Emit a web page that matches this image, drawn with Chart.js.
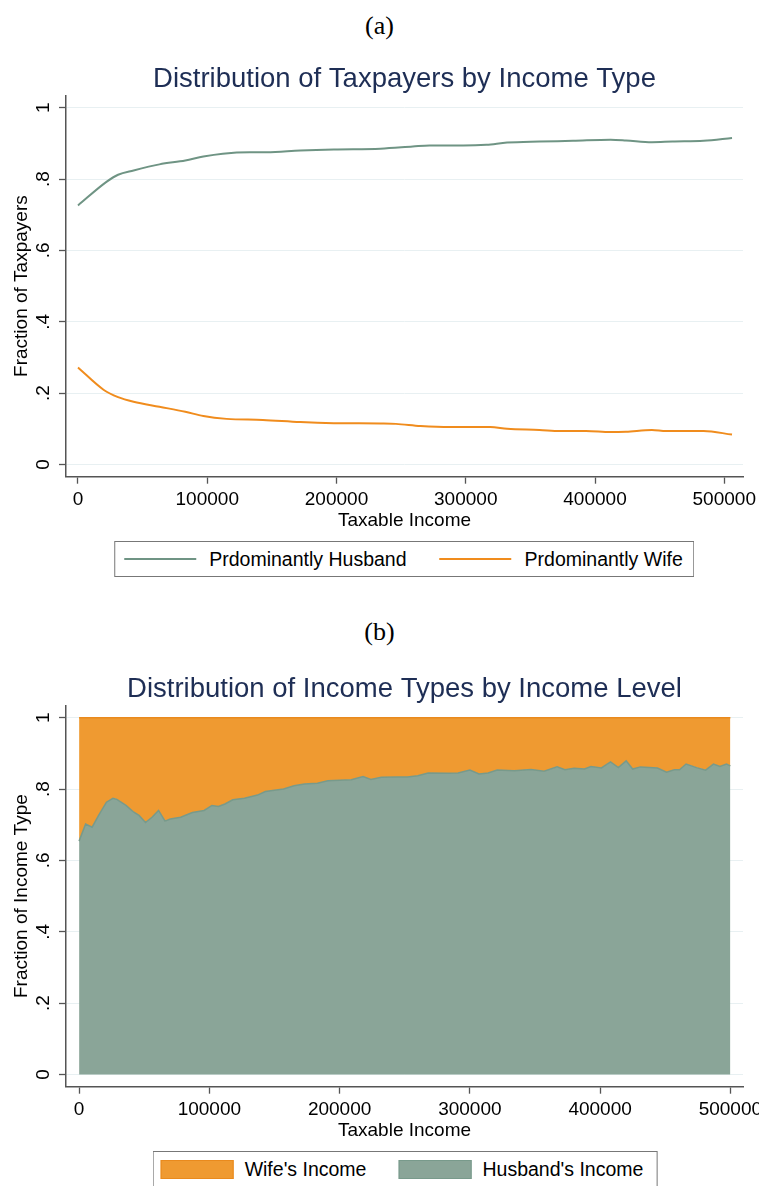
<!DOCTYPE html>
<html>
<head>
<meta charset="utf-8">
<script src="https://cdn.jsdelivr.net/npm/chart.js@4.4.1/dist/chart.umd.min.js"></script>
<style>
  html, body { margin: 0; padding: 0; background: #fff; overflow: hidden; }
  body { width: 759px; height: 1186px; position: relative; font-family: "Liberation Sans", Arial, sans-serif; }
  .panel { position: absolute; left: 0; width: 759px; text-align: center; font-family: "Liberation Serif", "DejaVu Serif", serif; font-size: 26px; line-height: 30px; color: #000; }
  .wrap { position: absolute; left: 0; width: 759px; height: 500px; }
  .legend { position: absolute; transform: translateX(-50%); display: flex; align-items: center; height: 36px; box-sizing: border-box;
            border: 1px solid #777; background: #fff; font-size: 19.5px; color: #000; white-space: nowrap; }
  .legend .item { display: flex; align-items: center; }
  .legend .key.line { width: 72px; height: 0; border-top: 2px solid; margin-right: 13px; }
  .legend .key.box { width: 71px; height: 17px; border: 1px solid; margin-right: 11px; }
</style>
</head>
<body>
<div class="panel" style="top:11px">(a)</div>
<div class="wrap" style="top:45px"><canvas id="taxpayers"></canvas></div>
<div class="legend" id="legendA" style="top:541px; left:404px; padding:0 10px 0 9px"></div>

<div class="panel" style="top:617px">(b)</div>
<div class="wrap" style="top:655px"><canvas id="incomeShare"></canvas></div>
<div class="legend" id="legendB" style="top:1151px; left:405px; padding:0 13px 0 7px"></div>

<script>
// axis ticks
const xTicks = [0, 100000, 200000, 300000, 400000, 500000]
const xTickLabels = ['0', '100000', '200000', '300000', '400000', '500000']
const yTicks = [0, 0.2, 0.4, 0.6, 0.8, 1]
const yTickLabels = ['0', '.2', '.4', '.6', '.8', '1']

// (a) fraction of taxpayers
const husbandIncome = [0, 22000, 31000, 43000, 63000, 83000, 97000, 112000, 133000, 146000, 172000, 198000, 234000,
  259000, 272000, 298000, 316000, 332000, 357000, 383000, 412000, 424000, 444000, 460000, 484000, 506000]
const husbandShare = [0.726, 0.792, 0.812, 0.824, 0.841, 0.852, 0.863, 0.871, 0.875, 0.875, 0.880, 0.883, 0.885,
  0.891, 0.894, 0.894, 0.896, 0.902, 0.905, 0.907, 0.910, 0.908, 0.903, 0.905, 0.907, 0.915]
const wifeIncome = [0, 20000, 31000, 43000, 63000, 83000, 97000, 115000, 143000, 172000, 198000, 234000, 246000,
  265000, 288000, 319000, 332000, 357000, 373000, 393000, 412000, 424000, 444000, 455000, 484000, 506000]
const wifeShare = [0.272, 0.209, 0.189, 0.176, 0.162, 0.148, 0.136, 0.128, 0.125, 0.119, 0.116, 0.115, 0.114,
  0.108, 0.105, 0.105, 0.100, 0.097, 0.094, 0.094, 0.091, 0.092, 0.097, 0.094, 0.094, 0.084]

// (b) fraction of income by type
const levelIncome = [0, 5000, 10000, 15000, 21000, 26000, 29000, 36000, 42000, 46000,
  51000, 56000, 61000, 66000, 70000, 78000, 87000, 96000, 102000, 107000,
  112000, 118000, 127000, 137000, 143000, 157000, 165000, 173000, 183000, 191000,
  209000, 218000, 224000, 232000, 244000, 252000, 260000, 268000, 283000, 291000,
  300000, 307000, 314000, 321000, 334000, 347000, 357000, 367000, 373000, 380000,
  388000, 393000, 401000, 408000, 414000, 420000, 425000, 431000, 444000, 451000,
  457000, 461000, 466000, 474000, 481000, 487000, 492000, 497000, 500000]
const husbandIncomeShare = [0.654, 0.702, 0.693, 0.726, 0.763, 0.774, 0.771, 0.754, 0.735, 0.726,
  0.706, 0.721, 0.740, 0.710, 0.716, 0.721, 0.734, 0.740, 0.754, 0.751,
  0.758, 0.770, 0.774, 0.783, 0.793, 0.800, 0.809, 0.814, 0.816, 0.823,
  0.826, 0.835, 0.827, 0.833, 0.834, 0.834, 0.837, 0.845, 0.844, 0.845,
  0.853, 0.842, 0.845, 0.853, 0.851, 0.855, 0.850, 0.862, 0.854, 0.858,
  0.856, 0.863, 0.859, 0.876, 0.860, 0.879, 0.856, 0.862, 0.859, 0.847,
  0.854, 0.854, 0.870, 0.860, 0.853, 0.870, 0.863, 0.870, 0.865]
const wifeIncomeShare = [0.346, 0.298, 0.307, 0.274, 0.237, 0.226, 0.229, 0.246, 0.265, 0.274,
  0.294, 0.279, 0.260, 0.290, 0.284, 0.279, 0.266, 0.260, 0.246, 0.249,
  0.242, 0.230, 0.226, 0.217, 0.207, 0.200, 0.191, 0.186, 0.184, 0.177,
  0.174, 0.165, 0.173, 0.167, 0.166, 0.166, 0.163, 0.155, 0.156, 0.155,
  0.147, 0.158, 0.155, 0.147, 0.149, 0.145, 0.150, 0.138, 0.146, 0.142,
  0.144, 0.137, 0.141, 0.124, 0.140, 0.121, 0.144, 0.138, 0.141, 0.153,
  0.146, 0.146, 0.130, 0.140, 0.147, 0.130, 0.137, 0.130, 0.135]

const GREEN_LINE = '#6f9484'
const ORANGE_LINE = '#f08c1d'
const GREEN_FILL = '#8aa598'
const ORANGE_FILL = '#ef9a31'

Chart.defaults.font.family = "'Liberation Sans', Arial, sans-serif"
Chart.defaults.color = '#000'

const pts = (xs, ys) => xs.map((x, i) => ({ x, y: ys[i] }))

// legend as html, stata style box
const htmlLegend = {
  id: 'htmlLegend',
  afterUpdate(chart, args, opts) {
    const box = document.getElementById(opts.containerID)
    box.innerHTML = ''
    let items = Chart.defaults.plugins.legend.labels.generateLabels(chart)
    if (opts.reverse) items = items.reverse()
    items.forEach((item, i) => {
      const el = document.createElement('span')
      el.className = 'item'
      if (i > 0) el.style.marginLeft = opts.gap + 'px'
      const key = document.createElement('span')
      key.className = 'key ' + opts.swatch
      if (opts.swatch === 'line') {
        key.style.borderTopColor = item.strokeStyle
      } else {
        key.style.background = item.fillStyle
        key.style.borderColor = item.strokeStyle
      }
      const txt = document.createElement('span')
      txt.textContent = item.text
      el.appendChild(key)
      el.appendChild(txt)
      box.appendChild(el)
    })
  }
}

function makeOptions(title, yTitle, xMin, xMax, stacked, legendOpts) {
  return {
    responsive: true,
    maintainAspectRatio: false,
    animation: false,
    layout: { padding: { left: 0, right: 16, top: 0, bottom: 5.3 } },
    elements: { point: { radius: 0 } },
    plugins: {
      legend: { display: false },
      tooltip: { enabled: false },
      htmlLegend: legendOpts,
      title: {
        display: true, text: title, fullSize: false, color: '#1e2e55',
        font: { size: 27.5, weight: 'normal' },
        padding: { top: 17.5, bottom: 0 }
      }
    },
    scales: {
      x: {
        type: 'linear', min: xMin, max: xMax,
        afterBuildTicks: s => { s.ticks = xTicks.map(v => ({ value: v })) },
        afterFit: s => { s.height = 63; s.paddingLeft = 0; s.paddingRight = 0 },
        ticks: { font: { size: 19 }, padding: 5, maxRotation: 0, callback: (v, i) => xTickLabels[i] },
        grid: { drawOnChartArea: false, tickLength: 7, tickColor: '#555', tickWidth: 1.3 },
        border: { color: '#555', width: 1.5 },
        title: { display: true, text: 'Taxable Income', font: { size: 19 }, padding: { top: 0, bottom: 7.3 } }
      },
      y: {
        min: -0.034, max: 1.034, stacked,
        afterBuildTicks: s => { s.ticks = yTicks.map(v => ({ value: v })) },
        afterFit: s => { s.width = 66; s.paddingTop = 0; s.paddingBottom = 0 },
        ticks: { font: { size: 19 }, minRotation: 90, maxRotation: 90, crossAlign: 'center', padding: 7,
          callback: (v, i) => yTickLabels[i] },
        grid: { color: '#e8f0f2', lineWidth: 1, tickLength: 7, tickColor: '#555', tickWidth: 1.3 },
        border: { color: '#555', width: 1.5 },
        title: { display: true, text: yTitle, font: { size: 19 }, padding: { top: 10.6, bottom: 0 } }
      }
    }
  }
}

new Chart(document.getElementById('taxpayers'), {
  type: 'line',
  data: {
    datasets: [
      { label: 'Prdominantly Husband', data: pts(husbandIncome, husbandShare),
        borderColor: GREEN_LINE, backgroundColor: GREEN_LINE, borderWidth: 2, cubicInterpolationMode: 'monotone' },
      { label: 'Prdominantly Wife', data: pts(wifeIncome, wifeShare),
        borderColor: ORANGE_LINE, backgroundColor: ORANGE_LINE, borderWidth: 2, cubicInterpolationMode: 'monotone' }
    ]
  },
  options: makeOptions('Distribution of Taxpayers by Income Type', 'Fraction of Taxpayers', -9280, 514500, false,
    { containerID: 'legendA', swatch: 'line', gap: 33 }),
  plugins: [htmlLegend]
})

new Chart(document.getElementById('incomeShare'), {
  type: 'line',
  data: {
    datasets: [
      { label: "Husband's Income", data: pts(levelIncome, husbandIncomeShare), fill: 'origin',
        borderColor: '#789a8b', backgroundColor: GREEN_FILL, borderWidth: 1.5, tension: 0 },
      { label: "Wife's Income", data: pts(levelIncome, wifeIncomeShare), fill: '-1',
        borderColor: '#e98a1d', backgroundColor: ORANGE_FILL, borderWidth: 1.5, tension: 0 }
    ]
  },
  options: makeOptions('Distribution of Income Types by Income Level', 'Fraction of Income Type', -10050, 509700, true,
    { containerID: 'legendB', swatch: 'box', gap: 32, reverse: true }),
  plugins: [htmlLegend]
})
</script>
</body>
</html>
